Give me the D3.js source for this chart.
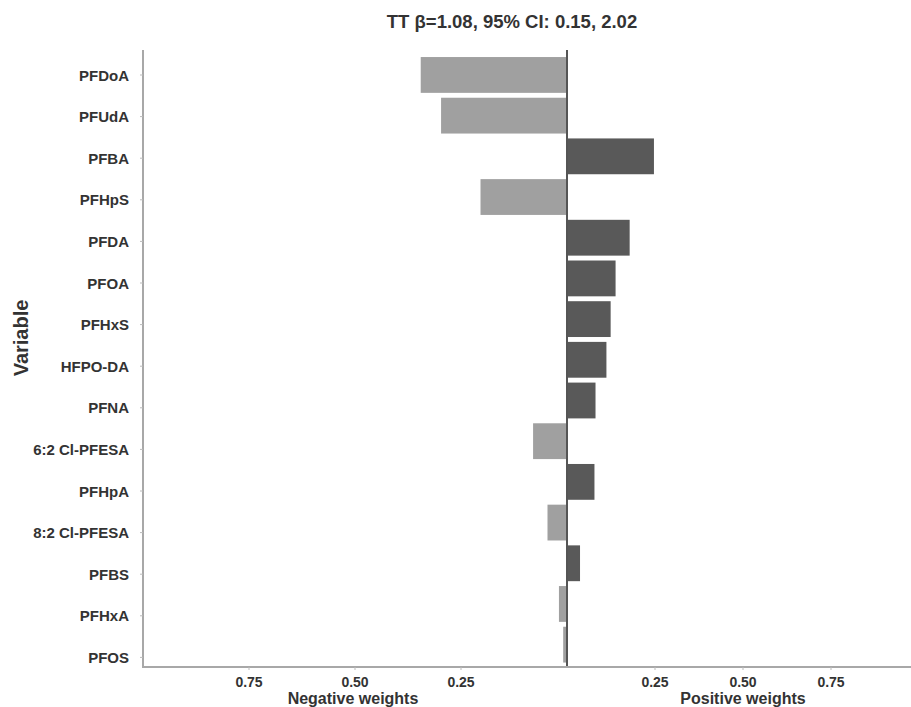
<!DOCTYPE html>
<html>
<head>
<meta charset="utf-8">
<script src="https://cdn.jsdelivr.net/npm/d3@7"></script>
<style>
  body { margin: 0; background: #fff; }
  text { font-family: "Liberation Sans", Arial, sans-serif; font-weight: bold; fill: #333; }
</style>
</head>
<body>
<script>
// data
const variables = ["PFDoA", "PFUdA", "PFBA", "PFHpS", "PFDA", "PFOA", "PFHxS", "HFPO-DA",
  "PFNA", "6:2 Cl-PFESA", "PFHpA", "8:2 Cl-PFESA", "PFBS", "PFHxA", "PFOS"];
const weights = [-0.345, -0.297, 0.247, -0.204, 0.178, 0.138, 0.124, 0.112,
  0.081, -0.080, 0.078, -0.046, 0.037, -0.019, -0.009];
const tickValues = [-0.75, -0.5, -0.25, 0.25, 0.5, 0.75];
const title = "TT \u03b2=1.08, 95% CI: 0.15, 2.02";

const width = 911;
const height = 707;
const plotLeft = 143, plotRight = 911, plotTop = 50, plotBottom = 667;

const svg = d3.select("body").append("svg")
  .attr("width", width)
  .attr("height", height);

// negative side and positive side are scaled separately
const x = d3.scaleLinear().domain([-1, 0, 1]).range([plotLeft, 567, 919]);
const yBar = d3.scaleBand().domain(variables).range([54.6, 665]).paddingInner(0.12).paddingOuter(0.06);
const yLab = d3.scaleBand().domain(variables).range([54.2, 678.2]);

// bars
svg.selectAll("rect.bar")
  .data(variables)
  .enter()
  .append("rect")
  .attr("class", "bar")
  .attr("x", (d, i) => Math.min(x(weights[i]), x(0)))
  .attr("y", (d) => yBar(d))
  .attr("width", (d, i) => Math.abs(x(weights[i]) - x(0)))
  .attr("height", yBar.bandwidth())
  .style("fill", (d, i) => (weights[i] < 0 ? "#a0a0a0" : "#595959"));

// zero line
svg.append("line")
  .attr("x1", x(0)).attr("x2", x(0))
  .attr("y1", plotTop).attr("y2", plotBottom)
  .style("stroke", "#555")
  .style("stroke-width", 2);

// axes lines
svg.append("line")
  .attr("x1", plotLeft).attr("x2", plotLeft)
  .attr("y1", plotTop).attr("y2", plotBottom)
  .style("stroke", "#a8a8a8").style("stroke-width", 2);
svg.append("line")
  .attr("x1", plotLeft - 1).attr("x2", plotRight)
  .attr("y1", plotBottom).attr("y2", plotBottom)
  .style("stroke", "#a8a8a8").style("stroke-width", 2);

// y ticks + labels
svg.selectAll("line.ytick")
  .data(variables)
  .enter()
  .append("line")
  .attr("class", "ytick")
  .attr("x1", plotLeft - 3).attr("x2", plotLeft)
  .attr("y1", (d) => yLab(d) + yLab.bandwidth() / 2)
  .attr("y2", (d) => yLab(d) + yLab.bandwidth() / 2)
  .style("stroke", "#bbb");

svg.selectAll("text.ylab")
  .data(variables)
  .enter()
  .append("text")
  .attr("class", "ylab")
  .attr("x", 129)
  .attr("y", (d) => yLab(d) + yLab.bandwidth() / 2)
  .attr("text-anchor", "end")
  .attr("dominant-baseline", "central")
  .style("font-size", "15px")
  .text((d) => d);

// x ticks + labels
svg.selectAll("line.xtick")
  .data(tickValues)
  .enter()
  .append("line")
  .attr("class", "xtick")
  .attr("x1", (d) => x(d)).attr("x2", (d) => x(d))
  .attr("y1", plotBottom).attr("y2", plotBottom + 3)
  .style("stroke", "#bbb");

svg.selectAll("text.xlab")
  .data(tickValues)
  .enter()
  .append("text")
  .attr("class", "xlab")
  .attr("x", (d) => x(d))
  .attr("y", 687)
  .attr("text-anchor", "middle")
  .style("font-size", "14px")
  .text((d) => Math.abs(d).toFixed(2));

svg.append("text")
  .attr("x", 353).attr("y", 704)
  .attr("text-anchor", "middle")
  .style("font-size", "16px")
  .text("Negative weights");

svg.append("text")
  .attr("x", 743).attr("y", 704)
  .attr("text-anchor", "middle")
  .style("font-size", "16px")
  .text("Positive weights");

// y axis title
svg.append("text")
  .attr("transform", "translate(21,338) rotate(-90)")
  .attr("text-anchor", "middle")
  .attr("dominant-baseline", "central")
  .style("font-size", "20px")
  .text("Variable");

// title
svg.append("text")
  .attr("x", 512).attr("y", 28)
  .attr("text-anchor", "middle")
  .style("font-size", "18.5px")
  .text(title);
</script>
</body>
</html>
